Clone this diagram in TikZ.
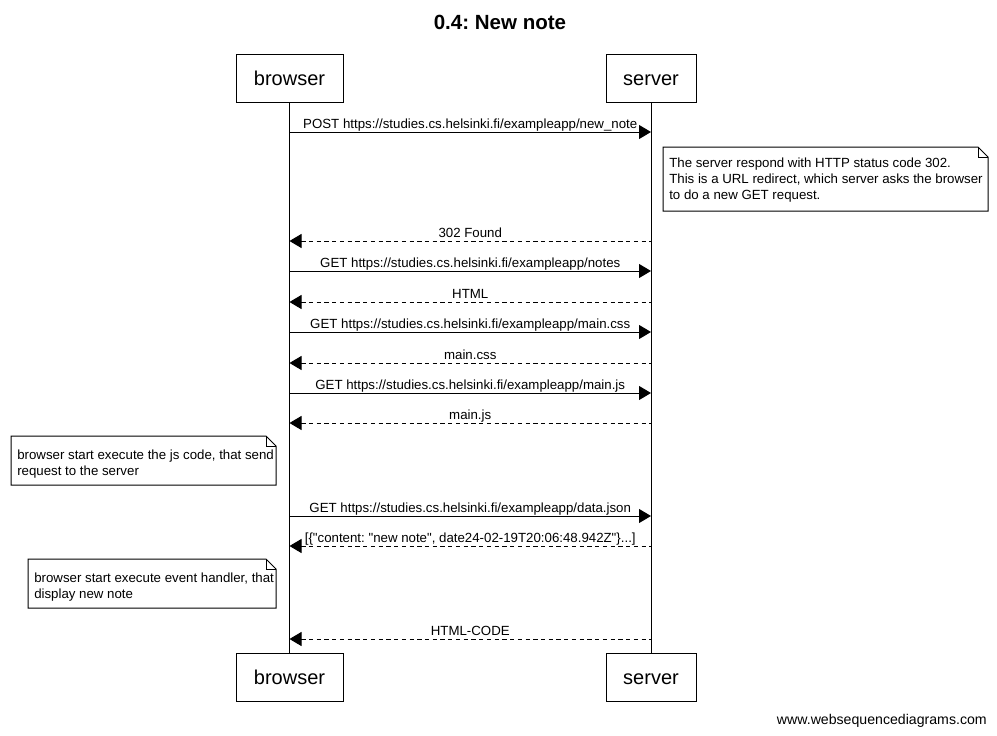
\documentclass[tikz,border=0pt]{standalone}
\usepackage{fontspec}
\setmainfont{Liberation Sans}[Ligatures=TeXOff]
\usetikzlibrary{arrows.meta,calc}
\frenchspacing
\begin{document}
\begin{tikzpicture}[x=0.75pt,y=-0.75pt,
  actor/.style={draw,line width=0.75pt,minimum height=36pt,inner sep=0pt,text height=13.9pt,text depth=3.2pt,font=\fontsize{15}{16}\selectfont},
  life/.style={line width=0.75pt},
  msg/.style={line width=0.75pt,-{Triangle[length=9pt,width=10.5pt]}},
  ret/.style={line width=0.75pt,{Triangle[length=9pt,width=10.5pt]}-,dash pattern=on 3.2pt off 2.6pt},
  lbl/.style={font=\fontsize{9.95}{11}\selectfont,inner sep=0pt,anchor=base},
  notetext/.style={font=\fontsize{9.95}{12}\selectfont,align=left,inner sep=0pt,anchor=north west},
  notebox/.style={line width=0.75pt,fill=white}]
\useasboundingbox (0,0) rectangle (997,736);
\fill[white] (0,0) rectangle (997,736);
% title
\node[font=\bfseries\fontsize{15.4}{16}\selectfont] (title) at (500,22) {0.4: New note};
% actors
\node[actor,minimum width=80.25pt] (btop) at (289.5,78) {browser};
\node[actor,minimum width=67.5pt] (stop) at (651,78) {server};
\node[actor,minimum width=80.25pt] (bbot) at (289.5,677) {browser};
\node[actor,minimum width=67.5pt] (sbot) at (651,677) {server};
\draw[life] (btop.south) -- (bbot.north);
\draw[life] (stop.south) -- (sbot.north);
% messages
\foreach \y/\st/\t [count=\i] in {
  132/msg/{POST https://studies.cs.helsinki.fi/exampleapp/new\_note},
  241/ret/{302 Found},
  271/msg/{GET https://studies.cs.helsinki.fi/exampleapp/notes},
  302/ret/{HTML},
  332/msg/{GET https://studies.cs.helsinki.fi/exampleapp/main.css},
  363/ret/{main.css},
  393/msg/{GET https://studies.cs.helsinki.fi/exampleapp/main.js},
  423/ret/{main.js},
  516/msg/{GET https://studies.cs.helsinki.fi/exampleapp/data.json},
  546/ret/{[\{"content: "new note", date24-02-19T20:06:48.942Z"\}...]},
  639/ret/{HTML-CODE}} {
  \coordinate (b\i) at (btop.south |- 0,\y);
  \coordinate (s\i) at (stop.south |- 0,\y);
  \draw[\st] (b\i) -- (s\i);
  \node[lbl] (l\i) at ($(b\i)!0.5!(s\i)+(0,-4)$) {\t};
}
% note 1
\draw[notebox] (663,147) -- (978,147) -- (988,157) -- (988,211) -- (663,211) -- cycle;
\draw[line width=0.75pt] (978,147) -- (978,157) -- (988,157);
\node[notetext] (n1) at (669,158) {The server respond with HTTP status code 302.\\This is a URL redirect, which server asks the browser\\to do a new GET request.};
% note 2
\draw[notebox] (11,436) -- (266,436) -- (276,446) -- (276,485) -- (11,485) -- cycle;
\draw[line width=0.75pt] (266,436) -- (266,446) -- (276,446);
\node[notetext] (n2) at (17,450) {browser start execute the js code, that send\\request to the server};
% note 3
\draw[notebox] (28,559) -- (266,559) -- (276,569) -- (276,608) -- (28,608) -- cycle;
\draw[line width=0.75pt] (266,559) -- (266,569) -- (276,569);
\node[notetext] (n3) at (34,573) {browser start execute event handler, that\\display new note};
% footer
\node[font=\fontsize{10.6}{12}\selectfont,anchor=base east,inner sep=0pt] (foot) at (987,724) {www.websequencediagrams.com};
\end{tikzpicture}
\end{document}
